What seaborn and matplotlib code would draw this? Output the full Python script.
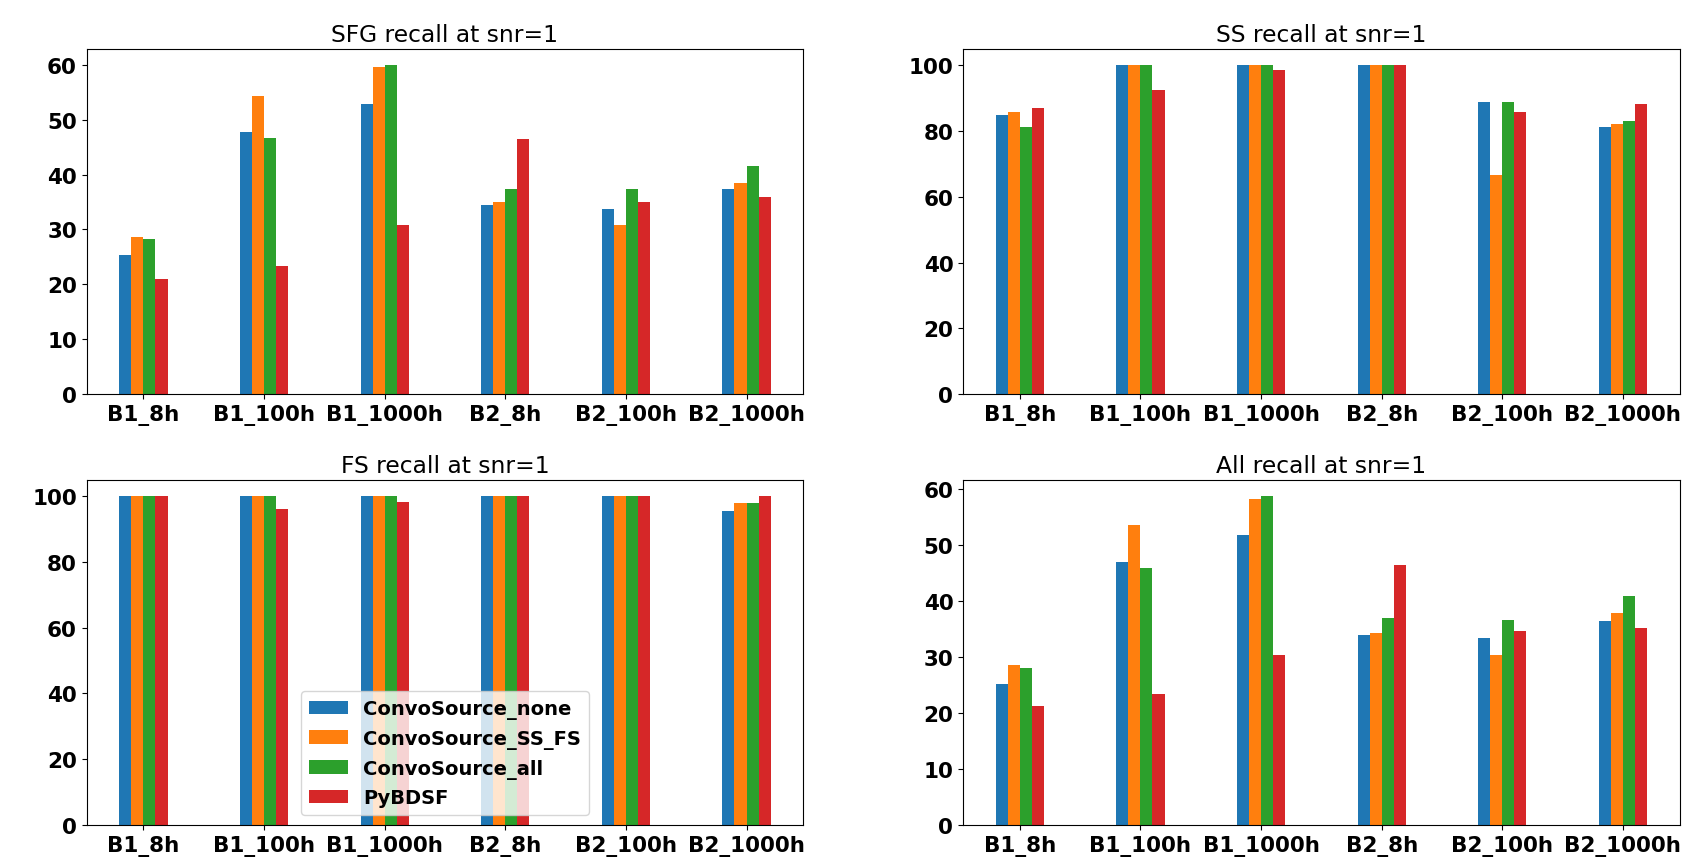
import pandas as pd
import seaborn as sns
import matplotlib.pyplot as plt

plt.rcParams['font.weight'] = 'bold'
plt.rcParams['font.size'] = 15.5

datasets = ['B1_8h', 'B1_100h', 'B1_1000h', 'B2_8h', 'B2_100h', 'B2_1000h']
methods = ['ConvoSource_none', 'ConvoSource_SS_FS', 'ConvoSource_all', 'PyBDSF']

# recall values per method, one entry per dataset
sfg_none = [25.3, 47.8, 52.8, 34.4, 33.7, 37.4]
sfg_ssfs = [28.6, 54.4, 59.6, 35.0, 30.8, 38.5]
sfg_all = [28.2, 46.7, 59.9, 37.4, 37.4, 41.6]
sfg_pybdsf = [20.9, 23.4, 30.8, 46.4, 35.0, 35.9]

ss_none = [84.8, 100.0, 100.0, 100.0, 88.8, 81.4]
ss_ssfs = [85.7, 100.0, 100.0, 100.0, 66.7, 82.3]
ss_all = [81.4, 100.0, 100.0, 100.0, 88.8, 83.2]
ss_pybdsf = [86.9, 92.4, 98.6, 100.0, 85.7, 88.2]

fs_none = [100.0, 100.0, 100.0, 100.0, 100.0, 95.5]
fs_ssfs = [100.0, 100.0, 100.0, 100.0, 100.0, 98.0]
fs_all = [100.0, 100.0, 100.0, 100.0, 100.0, 98.0]
fs_pybdsf = [100.0, 96.1, 98.3, 100.0, 100.0, 100.0]

all_none = [25.2, 47.0, 51.8, 34.0, 33.3, 36.5]
all_ssfs = [28.5, 53.5, 58.3, 34.2, 30.3, 37.8]
all_all = [28.1, 45.9, 58.7, 36.9, 36.6, 40.8]
all_pybdsf = [21.3, 23.4, 30.4, 46.4, 34.6, 35.1]

panels = [
    ('SFG recall at snr=1', [sfg_none, sfg_ssfs, sfg_all, sfg_pybdsf]),
    ('SS recall at snr=1', [ss_none, ss_ssfs, ss_all, ss_pybdsf]),
    ('FS recall at snr=1', [fs_none, fs_ssfs, fs_all, fs_pybdsf]),
    ('All recall at snr=1', [all_none, all_ssfs, all_all, all_pybdsf]),
]


def long_table(series):
    rows = []
    for m, vals in zip(methods, series):
        for d, v in zip(datasets, vals):
            rows.append({'dataset': d, 'method': m, 'recall': v})
    return pd.DataFrame(rows)


f, axs = plt.subplots(2, 2, figsize=(17, 8.62), dpi=100)

for ax, (title, series) in zip(axs.flat, panels):
    g = sns.barplot(data=long_table(series),
                    x='dataset',
                    y='recall',
                    hue='method',
                    hue_order=methods,
                    order=datasets,
                    palette='tab10',
                    saturation=1,
                    width=0.4,
                    errorbar=None,
                    ax=ax)
    g.set_title(title, fontweight='normal', fontsize=16.8)
    g.set_xlabel('')
    g.set_ylabel('')
    g.set_xlim(-0.47, 5.47)
    top = max(max(s) for s in series) * 1.05
    g.set_ylim(0, top)
    if title.startswith('FS'):
        g.legend(loc='lower center', fontsize=14, title=None)
    else:
        g.get_legend().remove()

plt.subplots_adjust(left=0.051, right=0.988, top=0.942, bottom=0.042,
                    wspace=0.223, hspace=0.249)
plt.savefig('out.png')
